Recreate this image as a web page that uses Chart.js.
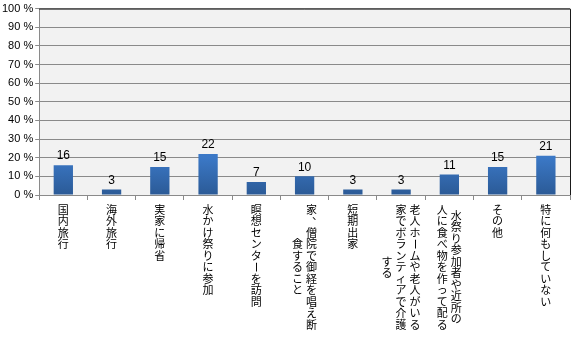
<!DOCTYPE html>
<html>
<head>
<meta charset="utf-8">
<script src="https://cdn.jsdelivr.net/npm/chart.js@4"></script>
<style>
  html, body { margin: 0; padding: 0; background: #fff; }
  #wrap { width: 574px; height: 338px; }
</style>
</head>
<body>
<div id="wrap"><canvas id="chart" width="574" height="338"></canvas></div>
<script>
// categories (vertical text, "\n" = next column to the left)
const categories = [
  '国内旅行',
  '海外旅行',
  '実家に帰省',
  '水かけ祭りに参加',
  '瞑想センターを訪問',
  '家、僧院で御経を唱え断\n食すること',
  '短期出家',
  '老人ホームや老人がいる\n家でボランティアで介護\nする',
  '水祭り参加者や近所の\n人に食べ物を作って配る',
  'その他',
  '特に何もしていない'
];
const values = [16, 3, 15, 22, 7, 10, 3, 3, 11, 15, 21];
const yTicks = [0, 10, 20, 30, 40, 50, 60, 70, 80, 90, 100];

// plot background + frame
const plotFrame = {
  id: 'plotFrame',
  beforeDraw(chart) {
    const { ctx, chartArea: a } = chart;
    ctx.save();
    ctx.fillStyle = '#f2f2f2';
    ctx.fillRect(a.left, a.top, a.right - a.left, a.bottom - a.top);
    ctx.restore();
  },
  afterDatasetsDraw(chart) {
    const { ctx, chartArea: a } = chart;
    ctx.save();
    ctx.strokeStyle = '#1a1a1a';
    ctx.lineWidth = 1;
    ctx.beginPath();
    ctx.moveTo(a.left, a.top + 0.5);
    ctx.lineTo(a.right + 0.5, a.top + 0.5);
    ctx.lineTo(a.right + 0.5, a.bottom);
    ctx.stroke();
    ctx.restore();
  }
};

// numbers above the bars
const barValues = {
  id: 'barValues',
  afterDatasetsDraw(chart) {
    const { ctx } = chart;
    const meta = chart.getDatasetMeta(0);
    ctx.save();
    ctx.font = '12px "Liberation Sans", Arial, sans-serif';
    ctx.fillStyle = '#000';
    ctx.textAlign = 'center';
    ctx.textBaseline = 'bottom';
    meta.data.forEach((bar, i) => {
      ctx.fillText(String(values[i]), bar.x, bar.y - 3);
    });
    ctx.restore();
  }
};

// vertical japanese category labels
const verticalLabels = {
  id: 'verticalLabels',
  afterDraw(chart) {
    const { ctx, chartArea: a } = chart;
    const xs = chart.scales.x;
    const pitch = 11.5, colGap = 14;
    ctx.save();
    ctx.font = '11px "Noto Sans CJK JP", sans-serif';
    ctx.fillStyle = '#000';
    ctx.textAlign = 'center';
    ctx.textBaseline = 'middle';
    categories.forEach((label, i) => {
      const cols = label.split('\n');
      const cx = xs.getPixelForValue(i);
      const maxLen = Math.max(...cols.map(c => [...c].length));
      cols.forEach((col, j) => {
        const chars = [...col];
        const x = cx + ((cols.length - 1) / 2 - j) * colGap;
        const y0 = a.bottom + 9 + (maxLen - chars.length) / 2 * pitch;
        chars.forEach((ch, k) => {
          const y = y0 + k * pitch + pitch / 2;
          if (ch === 'ー') {
            ctx.save();
            ctx.translate(x, y);
            ctx.rotate(Math.PI / 2);
            ctx.fillText(ch, 0, 0);
            ctx.restore();
          } else if (ch === '、') {
            ctx.fillText(ch, x + 6, y - 6);
          } else {
            ctx.fillText(ch, x, y);
          }
        });
      });
    });
    ctx.restore();
  }
};

const ctx = document.getElementById('chart').getContext('2d');
new Chart(ctx, {
  type: 'bar',
  data: {
    labels: categories,
    datasets: [{
      data: values,
      backgroundColor: (c) => {
        const area = c.chart.chartArea;
        if (!area) return '#3a74bf';
        const g = c.chart.ctx.createLinearGradient(0, area.top, 0, area.bottom);
        g.addColorStop(0, '#4c8ee0');
        g.addColorStop(0.8, '#3b78c6');
        g.addColorStop(1, '#2b5a96');
        return g;
      },
      borderWidth: 0,
      barPercentage: 0.4,
      categoryPercentage: 1
    }]
  },
  options: {
    responsive: false,
    animation: false,
    layout: { padding: { left: 0, right: 4, top: 8, bottom: 138 } },
    plugins: { legend: { display: false }, tooltip: { enabled: false } },
    scales: {
      x: {
        grid: { drawOnChartArea: false, drawTicks: true, tickLength: 5, color: '#8a8a8a', offset: true },
        border: { color: '#8a8a8a' },
        ticks: { display: false }
      },
      y: {
        min: 0,
        max: 100,
        afterBuildTicks: (s) => { s.ticks = yTicks.map(v => ({ value: v })); },
        grid: { color: '#8a8a8a', tickLength: 4 },
        border: { color: '#8a8a8a' },
        ticks: {
          padding: 2,
          color: '#000',
          font: { family: '"Liberation Sans", Arial, sans-serif', size: 11 },
          callback: (v) => v + ' %'
        }
      }
    }
  },
  plugins: [plotFrame, barValues, verticalLabels]
});
</script>
</body>
</html>
